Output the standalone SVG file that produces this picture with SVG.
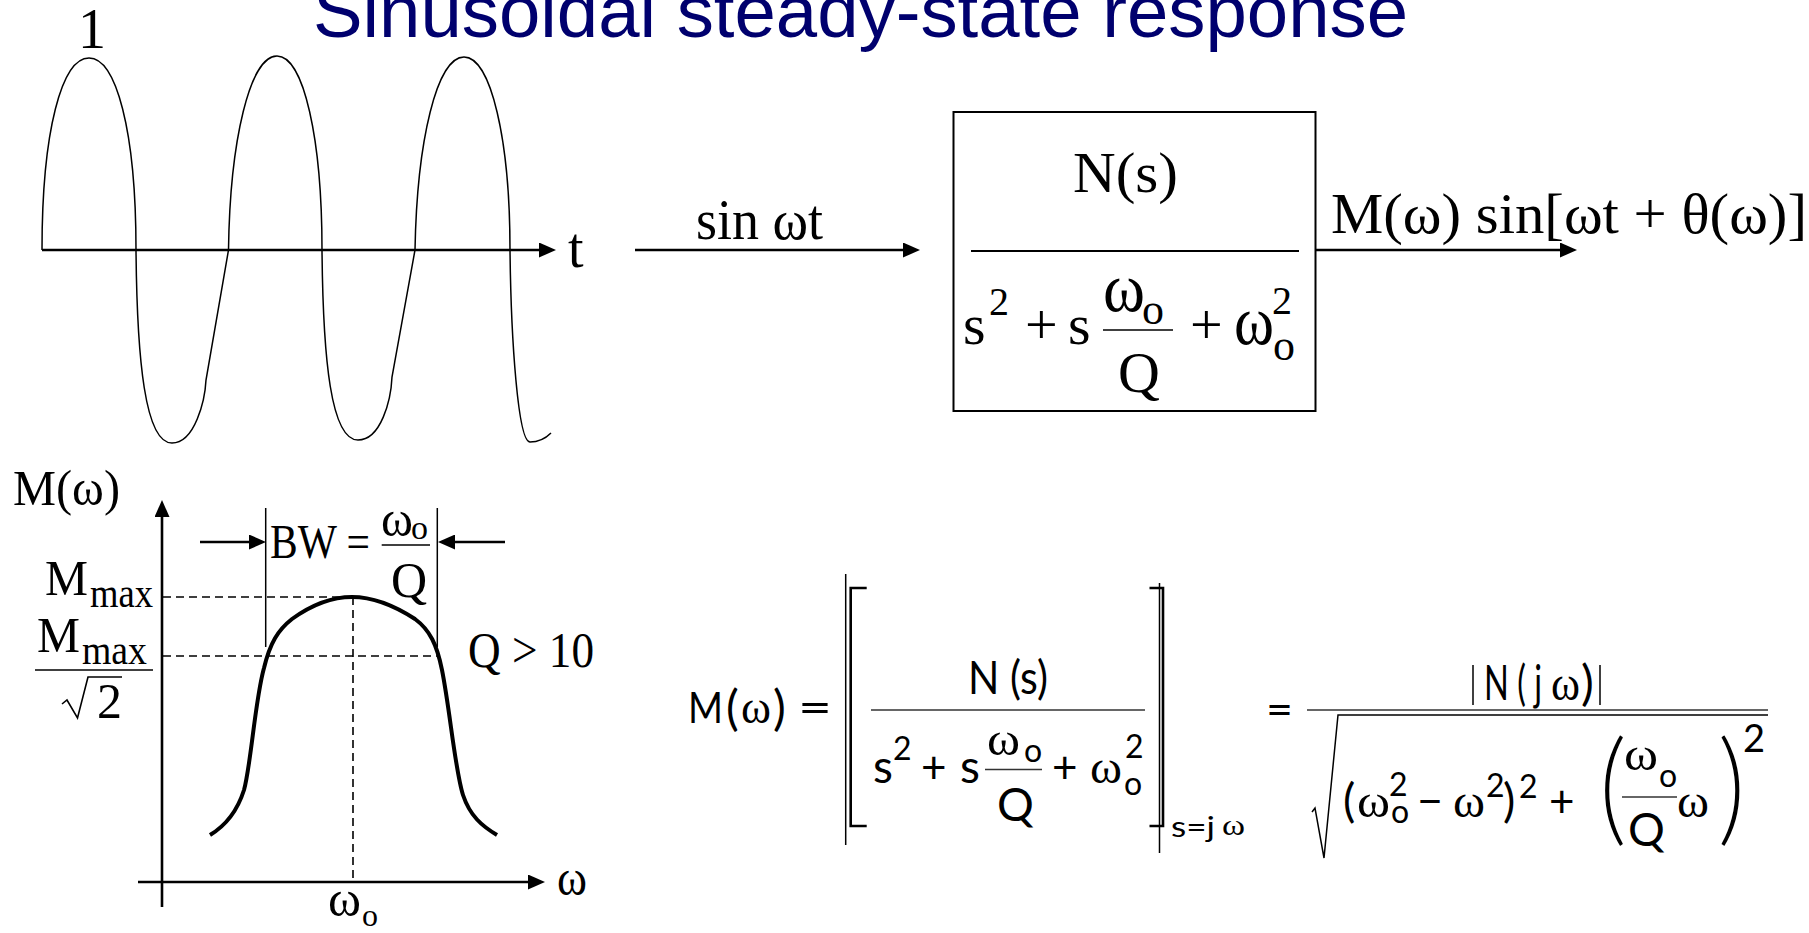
<svg xmlns="http://www.w3.org/2000/svg" width="1809" height="933" viewBox="0 0 1809 933">
<style>
.s{font-family:"Liberation Serif","Times New Roman",serif;fill:#000}
.c{font-family:Lato,"Liberation Sans",sans-serif;fill:#000}
.ln{stroke:#000;fill:none}
.dash{stroke:#000;stroke-width:1.6;stroke-dasharray:8 5;fill:none}
.ar{stroke:#000;stroke-width:2.6;fill:none;marker-end:url(#ah)}
.th{stroke:#000;stroke-width:1.5;fill:none}
.bp{stroke:#fff;stroke-width:5.5;paint-order:normal}
</style>
<defs>
<marker id="ah" markerWidth="17" markerHeight="15" refX="1" refY="7.5" orient="auto" markerUnits="userSpaceOnUse">
<path d="M0,0 L17,7.5 L0,15 z" fill="#000"/>
</marker>
</defs>
<rect width="1809" height="933" fill="#fff"/>

<g id="title">
<text x="313" y="37" font-family="Liberation Sans,Arial,sans-serif" font-size="74" fill="#00006e" textLength="1095" lengthAdjust="spacingAndGlyphs">Sinusoidal steady-state response</text>
</g>

<g id="sine-plot">
<text class="s" x="78" y="48" font-size="56">1</text>
<path class="th" d="M42,250 C42,130 62,58 89,58 C116,58 136,130 136,250 C137,360 145,443 172,443 C195,443 205,400 206,380 L228.5,250 C230,140 250,56 277,56 C304,56 322,140 322,250 C323,360 331,440 358,440 C381,440 391,400 392,377 L415,250 C417,140 437,57 464,57 C491,57 510,140 510,250 C511,340 518,442 530,442 C540,442 546,438 551,433"/>
<line class="ar" x1="42" y1="250" x2="540" y2="250"/>
<text class="s" x="568" y="267" font-size="56">t</text>
</g>

<g id="connectors">
<line class="ar" x1="635" y1="250" x2="904" y2="250"/>
<line class="ar" x1="1316" y1="250" x2="1561" y2="250"/>
</g>

<g id="input-label">
<text class="s" x="696" y="239" font-size="58" textLength="127" lengthAdjust="spacingAndGlyphs">sin ωt</text>
</g>

<g id="block">
<rect x="953.5" y="112" width="362" height="299" fill="none" stroke="#000" stroke-width="2"/>
<text class="s" x="1073" y="192" font-size="58" textLength="105" lengthAdjust="spacingAndGlyphs">N(s)</text>
<line x1="971" y1="251" x2="1299" y2="251" stroke="#000" stroke-width="2"/>
<text class="s" x="963" y="344" font-size="58">s</text>
<text class="s" x="989" y="315" font-size="40">2</text>
<text class="s" x="1025" y="344" font-size="58">+</text>
<text class="s" x="1068" y="344" font-size="58">s</text>
<text class="s" transform="translate(1103,311) scale(1,1.2)" font-size="58" textLength="42" lengthAdjust="spacingAndGlyphs">ω</text>
<text class="s" x="1142" y="324" font-size="44">o</text>
<line x1="1103" y1="330" x2="1173" y2="330" stroke="#000" stroke-width="1.5"/>
<text class="s" x="1118" y="392" font-size="58">Q</text>
<text class="s" x="1190" y="344" font-size="58">+</text>
<text class="s" transform="translate(1234,344) scale(1,1.2)" font-size="58" textLength="40" lengthAdjust="spacingAndGlyphs">ω</text>
<text class="s" x="1272" y="314" font-size="40">2</text>
<text class="s" x="1273" y="360" font-size="44">o</text>
</g>

<g id="output-label">
<text class="s" x="1331" y="233" font-size="58" textLength="476" lengthAdjust="spacingAndGlyphs">M(ω) sin[ωt + θ(ω)]</text>
</g>

<g id="magnitude-plot">
<text class="s" x="13" y="505" font-size="50" textLength="107" lengthAdjust="spacingAndGlyphs">M(ω)</text>
<line class="ar" x1="162" y1="907" x2="162" y2="516"/>
<line class="ar" x1="138" y1="882" x2="529" y2="882"/>
<text class="s" x="557" y="895" font-size="50" textLength="30" lengthAdjust="spacingAndGlyphs">ω</text>
<line class="dash" x1="163" y1="597" x2="352" y2="597"/>
<line class="dash" x1="163" y1="656" x2="437" y2="656"/>
<line class="dash" x1="353" y1="597" x2="353" y2="881"/>
<path d="M210,835 C225,826 237,812 244,790 C251,765 255,700 264,668 C270,643 278,630 292,619 C310,606 330,597 352,597 C372,597 395,606 415,619 C430,630 437,645 442,670 C450,710 455,770 463,795 C470,816 482,826 497,835" fill="none" stroke="#000" stroke-width="4"/>
<line class="th" x1="265.7" y1="508" x2="265.7" y2="647"/>
<line class="th" x1="437.3" y1="508" x2="437.3" y2="647"/>
<line class="ar" x1="200" y1="542" x2="250" y2="542"/>
<line class="ar" x1="505" y1="542" x2="454" y2="542"/>
<text class="s" x="270" y="558" font-size="48" textLength="100" lengthAdjust="spacingAndGlyphs">BW =</text>
<text class="s" x="381" y="536" font-size="50" textLength="32" lengthAdjust="spacingAndGlyphs">ω</text>
<text class="s" x="411" y="539" font-size="34">o</text>
<line x1="381.7" y1="545" x2="430" y2="545" stroke="#000" stroke-width="1.5"/>
<text class="s" x="391" y="597" font-size="50">Q</text>
<text class="s" x="468" y="667" font-size="50" textLength="126" lengthAdjust="spacingAndGlyphs">Q &gt; 10</text>
<text class="s" x="45" y="595" font-size="50" textLength="43" lengthAdjust="spacingAndGlyphs">M</text>
<text class="s" x="90" y="607" font-size="42" textLength="63" lengthAdjust="spacingAndGlyphs">max</text>
<text class="s" x="37" y="652" font-size="50" textLength="43" lengthAdjust="spacingAndGlyphs">M</text>
<text class="s" x="82" y="663.5" font-size="42" textLength="65" lengthAdjust="spacingAndGlyphs">max</text>
<line x1="35" y1="670" x2="153" y2="670" stroke="#000" stroke-width="1.5"/>
<polyline points="62,704 67,700 77.5,718 88,677 122,677" fill="none" stroke="#000" stroke-width="1.6"/>
<text class="s" x="97" y="718" font-size="50">2</text>
<text class="s" x="328" y="916" font-size="50" textLength="33" lengthAdjust="spacingAndGlyphs">ω</text>
<text class="s" x="362" y="926" font-size="32">o</text>
</g>

<g id="formula-magnitude">
<text class="c" x="688" y="723" font-size="42" textLength="35" lengthAdjust="spacingAndGlyphs">M</text>
<text class="c" x="726" y="725" font-size="48">(</text>
<text class="s" x="741" y="723" font-size="46" textLength="30" lengthAdjust="spacingAndGlyphs">ω</text>
<text class="c" x="773" y="725" font-size="48">)</text>
<text class="c" x="798" y="723" font-size="44" textLength="34" lengthAdjust="spacingAndGlyphs">=</text>
<line class="th" x1="845.7" y1="574" x2="845.7" y2="845"/>
<polyline points="866.7,588 850.7,588 850.7,826 866.7,826" fill="none" stroke="#000" stroke-width="2.6"/>
<polyline points="1149.5,588 1163,588 1163,826 1149.5,826" fill="none" stroke="#000" stroke-width="2.6"/>
<line class="th" x1="1159.5" y1="583" x2="1159.5" y2="853"/>
<text class="c" x="968" y="694" font-size="46" textLength="80" lengthAdjust="spacingAndGlyphs">N (s)</text>
<line x1="871" y1="710" x2="1145" y2="710" stroke="#333" stroke-width="1.6"/>
<text class="c" x="873" y="783" font-size="46">s</text>
<text class="c" x="893" y="760" font-size="32">2</text>
<text class="c" x="921" y="783" font-size="44">+</text>
<text class="c" x="960" y="783" font-size="46">s</text>
<text class="s" x="987" y="755" font-size="46" textLength="33" lengthAdjust="spacingAndGlyphs">ω</text>
<text class="c" x="1024" y="762" font-size="32">o</text>
<line x1="985" y1="769.5" x2="1042" y2="769.5" stroke="#333" stroke-width="1.4"/>
<text class="c" x="997" y="821" font-size="46">Q</text>
<text class="c" x="1052" y="783" font-size="44">+</text>
<text class="s" x="1090" y="783" font-size="46" textLength="32" lengthAdjust="spacingAndGlyphs">ω</text>
<text class="c" x="1125" y="758" font-size="32">2</text>
<text class="c" x="1124" y="795" font-size="32">o</text>
<text class="c" x="1171" y="837" font-size="28" textLength="44" lengthAdjust="spacingAndGlyphs">s=j</text>
<text class="s" x="1222" y="835" font-size="30" textLength="23" lengthAdjust="spacingAndGlyphs">ω</text>
</g>

<g id="formula-result">
<text class="c" x="1266" y="725" font-size="44" textLength="27" lengthAdjust="spacingAndGlyphs">=</text>
<line x1="1307" y1="710" x2="1768" y2="710" stroke="#333" stroke-width="1.6"/>
<polyline points="1312,812 1315,808 1324,858 1338,715 1768,715" fill="none" stroke="#000" stroke-width="1.5"/>
<line class="th" x1="1473" y1="665" x2="1473" y2="705"/>
<line class="th" x1="1600" y1="665" x2="1600" y2="705"/>
<text class="c" x="1484" y="700" font-size="48" textLength="58" lengthAdjust="spacingAndGlyphs">N ( j</text>
<text class="s" x="1551" y="700" font-size="48" textLength="29" lengthAdjust="spacingAndGlyphs">ω</text>
<text class="c" x="1581" y="700" font-size="48">)</text>
<text class="c" x="1343" y="817" font-size="46">(</text>
<text class="s" x="1357" y="817" font-size="46" textLength="33" lengthAdjust="spacingAndGlyphs">ω</text>
<text class="c" x="1389" y="796" font-size="32">2</text>
<text class="c" x="1391" y="823" font-size="32">o</text>
<text class="c" x="1417" y="817" font-size="44" textLength="26" lengthAdjust="spacingAndGlyphs">−</text>
<text class="s" x="1453" y="817" font-size="46" textLength="32" lengthAdjust="spacingAndGlyphs">ω</text>
<text class="c" x="1486" y="797" font-size="32">2</text>
<text class="c" x="1503" y="817" font-size="46">)</text>
<text class="c" x="1519" y="798" font-size="32">2</text>
<text class="c" x="1549" y="817" font-size="44">+</text>
<text class="c bp" transform="translate(1597,831) scale(0.95,1)" font-size="128">(</text>
<text class="s" x="1624" y="770" font-size="46" textLength="34" lengthAdjust="spacingAndGlyphs">ω</text>
<text class="c" x="1659" y="787" font-size="32">o</text>
<line x1="1622" y1="797" x2="1677" y2="797" stroke="#333" stroke-width="1.4"/>
<text class="c" x="1628" y="846" font-size="46">Q</text>
<text class="s" x="1677" y="817" font-size="46" textLength="32" lengthAdjust="spacingAndGlyphs">ω</text>
<text class="c bp" transform="translate(1715,831) scale(0.95,1)" font-size="128">)</text>
<text class="c" x="1743" y="752" font-size="38">2</text>
</g>
</svg>
